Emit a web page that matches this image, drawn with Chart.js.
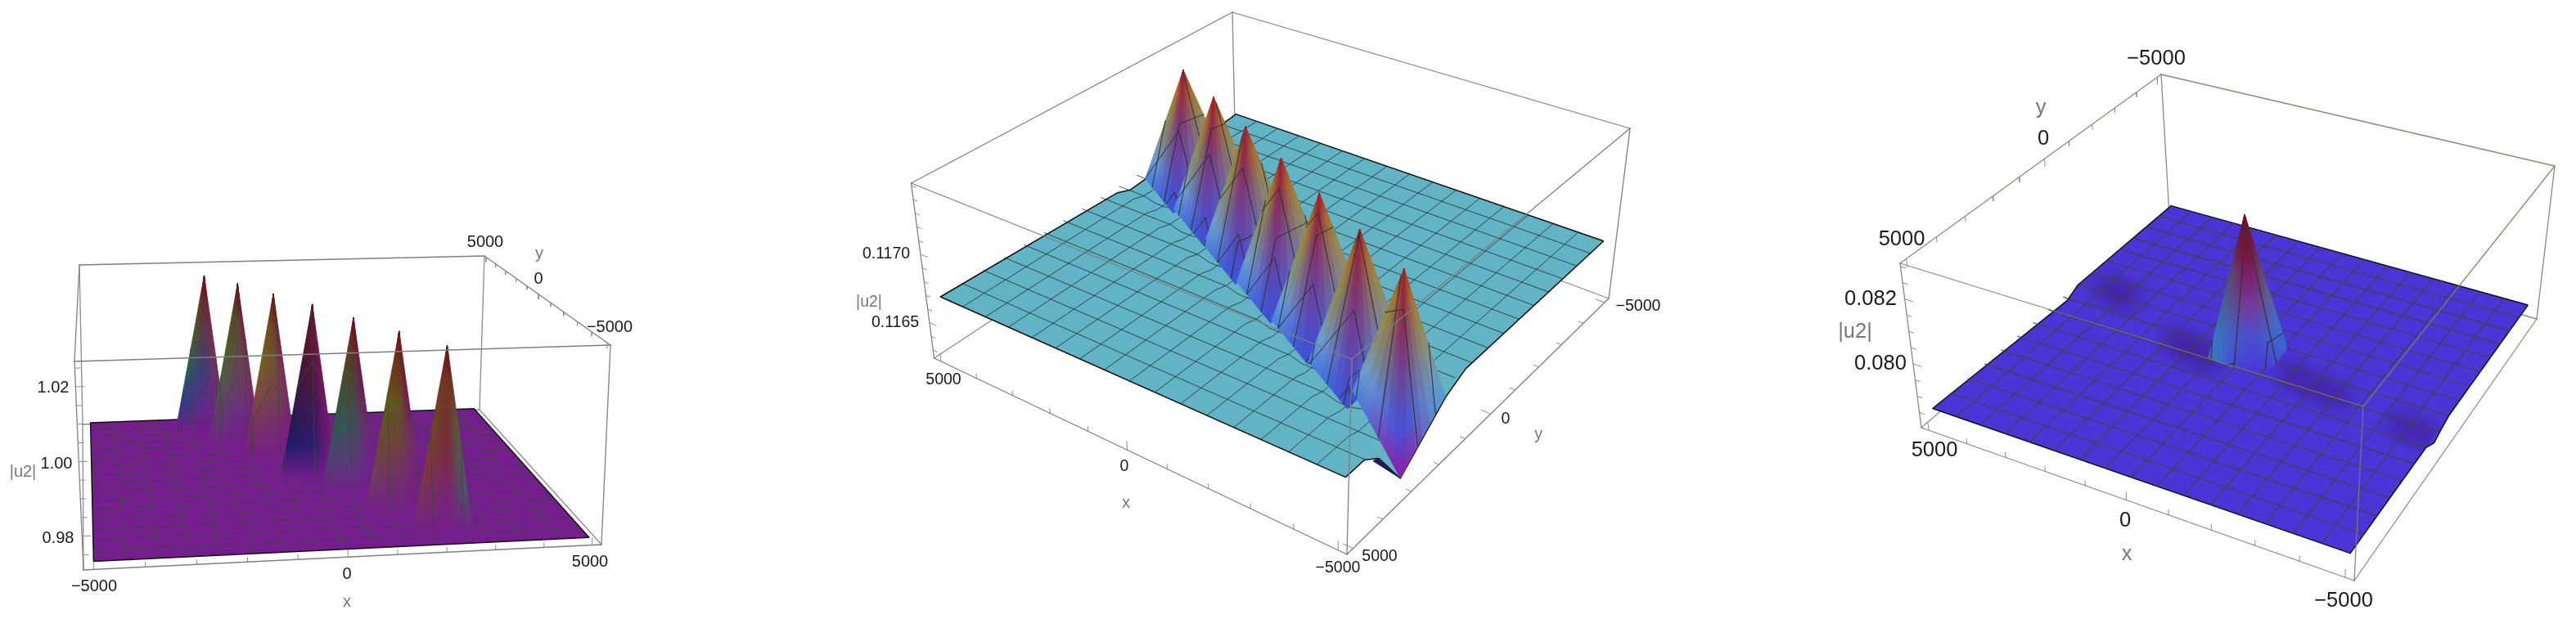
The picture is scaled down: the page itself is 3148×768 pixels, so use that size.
<!DOCTYPE html>
<html>
<head>
<meta charset="utf-8">
<style>
  html, body { margin: 0; background: #fff; }
  #wrap { width: 3148px; height: 768px; }
</style>
<script src="https://cdn.jsdelivr.net/npm/chart.js@4/dist/chart.umd.js"></script>
</head>
<body>
<div id="wrap"><canvas id="surfaces" width="3148" height="768"></canvas></div>
<script>
// axes, shared by the three plots
const axisTicks = [-5000, -4000, -3000, -2000, -1000, 0, 1000, 2000, 3000, 4000, 5000];
const axisMajor = [-5000, 0, 5000];
const meshLines = [-4375, -3750, -3125, -2500, -1875, -1250, -625, 0, 625, 1250, 1875, 2500, 3125, 3750, 4375];

// left plot
const zTicks1 = [0.975, 0.98, 0.985, 0.99, 0.995, 1.0, 1.005, 1.01, 1.015, 1.02, 1.025];
const zMajor1 = [0.98, 1.0, 1.02];
const flatZ1 = 0.9722;
const spikeX1 = [-2134, -1422, -699, 27, 755, 1517, 2236];
const spikeY1 = [4318, 2959, 1673, 261, -1066, -2379, -3816];
const spikeZ1 = [1.0243, 1.0248, 1.0246, 1.0248, 1.0242, 1.0236, 1.0236];
const footDx1 = [-780, -100, 500];
const footDy1 = [-540, -800, -560];
const rimX1 = [-5000, 5000, 5000, -5000];
const rimY1 = [-5000, -5000, 5000, 5000];
const rimZ1 = [0.9722, 0.9722, 0.9722, 0.9722];

// middle plot
const zTicks2 = [0.1163, 0.1164, 0.1165, 0.1166, 0.1167, 0.1168, 0.1169, 0.117, 0.1171, 0.1172, 0.1173, 0.1174, 0.1175];
const zMajor2 = [0.1165, 0.117];
const flatZ2 = 0.11668;
const spikeX2 = [4050, 2674, 1203, -240, -1676, -3105, -4420];
const spikeY2 = [-1894, -1211, -399, 343, 1073, 1819, 2354];
const spikeZ2 = [0.11754, 0.11754, 0.11756, 0.11757, 0.11757, 0.11758, 0.11754];
const footDx2 = [700, -780, -700];
const footDy2 = [650, 1480, -700];
const lastFootX2 = [-3638, -5000, -4975];
const lastFootY2 = [2763, 3100, 1530];
const lastFootZ2 = [0.11668, 0.11632, 0.1166];
const rimX2 = [-5000, 5000, 5000, 5000, 5000, -5000, -5000, -5000, -5000, -5000, -5000];
const rimY2 = [-5000, -5000, -984, -530, 5000, 5000, 4391, 3900, 3100, 1530, 827];
const rimZ2 = [0.11668, 0.11668, 0.1166, 0.11664, 0.11668, 0.11668, 0.11668, 0.1166, 0.11632, 0.1166, 0.11667];
// the mesh dips a little where it crosses the row of spikes
const troughSlope2 = 0.4995;
const troughAnchor2 = [3230, -304];
const troughDip2 = 0.000025;

// right plot
const zTicks3 = [0.0785, 0.079, 0.0795, 0.08, 0.0805, 0.081, 0.0815, 0.082, 0.0825, 0.083];
const zMajor3 = [0.08, 0.082];
const flatZ3 = 0.07855;
const spikeX3 = [50];
const spikeY3 = [-72];
const spikeZ3 = [0.08296];
const footX3 = [703, 24, -757, -710];
const footY3 = [570, 646, 227, -634];
const rimX3 = [-5000, 5000, 5000, 5000, 5000, -5000, -5000, -5000, -5000, -5000];
const rimY3 = [-5000, -5000, -622, -126, 5000, 5000, 1271, 787, 400, -24];
const rimZ3 = [0.07855, 0.07855, 0.07855, 0.07835, 0.07855, 0.07855, 0.07855, 0.07832, 0.07845, 0.07855];
const shadeX3 = [4292, 3700, 1700, 1180, 700, -1290, -1900, -2500, -4808, -4200];
const shadeY3 = [-832, -700, 330, 452, 560, 301, 420, 500, 883, 760];

// cameras: where the corners of the plot box land, order (x-,y-) (x+,y-) (x+,y+) (x-,y+)
const boxBottom1 = [[102, 697], [735, 666], [586, 501], [101, 519]];
const boxTop1 = [[91, 442], [746, 422], [592, 313], [97, 324]];
const boxBottom2 = [[1966, 365], [1510, 195], [1141.6, 438], [1646, 678]];
const boxTop2 = [[1992, 157], [1506, 15], [1113.5, 224], [1652, 439]];
const boxBottom3 = [[3100, 390], [2651, 263], [2348, 523], [2877, 710]];
const boxTop3 = [[3122, 203], [2641, 91], [2322, 322], [2888, 497]];

const boxEdges = [[0, 1], [1, 2], [2, 3], [3, 0], [4, 5], [5, 6], [6, 7], [7, 4], [0, 4], [1, 5], [2, 6], [3, 7]];

const BOX = 5200;
const datasets = [];

function homography(q) {
    const [[x0, y0], [x1, y1], [x2, y2], [x3, y3]] = q;
    const dx1 = x1 - x2, dx2 = x3 - x2, sx = x0 - x1 + x2 - x3;
    const dy1 = y1 - y2, dy2 = y3 - y2, sy = y0 - y1 + y2 - y3;
    const den = dx1 * dy2 - dx2 * dy1;
    const g = (sx * dy2 - dx2 * sy) / den, h = (dx1 * sy - sx * dy1) / den;
    return [x1 - x0 + g * x1, x3 - x0 + h * x3, x0, y1 - y0 + g * y1, y3 - y0 + h * y3, y0, g, h];
}

function camera(bottom, top, zMin, zMax) {
    return { low: homography(bottom), high: homography(top), zMin, zMax };
}

function project(cam, x, y, z) {
    const u = (x + BOX) / (2 * BOX), v = (y + BOX) / (2 * BOX);
    const w = (z - cam.zMin) / (cam.zMax - cam.zMin);
    const at = m => {
        const d = m[6] * u + m[7] * v + 1;
        return [(m[0] * u + m[1] * v + m[2]) / d, (m[3] * u + m[4] * v + m[5]) / d];
    };
    const a = at(cam.low), b = at(cam.high);
    return { x: a[0] + (b[0] - a[0]) * w, y: a[1] + (b[1] - a[1]) * w };
}

function addLine(cam, pts, color, width) {
    datasets.push({
        data: pts.map(p => project(cam, p[0], p[1], p[2])),
        showLine: true, pointRadius: 0, fill: false,
        borderColor: color, borderWidth: width, borderJoinStyle: 'round', borderCapStyle: 'round'
    });
}

function addShape(cam, pts, fillStyle, border, width) {
    const data = pts.map(p => project(cam, p[0], p[1], p[2]));
    data.push(data[0]);
    datasets.push({
        data, showLine: true, pointRadius: 0, fill: 'shape',
        backgroundColor: fillStyle, borderColor: border, borderWidth: width, borderJoinStyle: 'round'
    });
}

// the paints can be asked for before layout, the scales map 1:1 onto the canvas anyway
const pixel = (scale, v) => {
    const p = scale.getPixelForValue(v);
    return Number.isFinite(p) ? p : v;
};

function linearPaint(a, b, cols) {
    return ctx => {
        const { x, y } = ctx.chart.scales;
        const g = ctx.chart.ctx.createLinearGradient(pixel(x, a.x), pixel(y, a.y), pixel(x, b.x), pixel(y, b.y));
        cols.forEach((c, i) => g.addColorStop(i / (cols.length - 1), c));
        return g;
    };
}

function radialPaint(c, radius, inner, outer) {
    return ctx => {
        const { x, y } = ctx.chart.scales;
        const px = pixel(x, c.x), py = pixel(y, c.y);
        const g = ctx.chart.ctx.createRadialGradient(px, py, 0, px, py, radius);
        g.addColorStop(0, inner);
        g.addColorStop(1, outer);
        return g;
    };
}

const hex = s => [1, 3, 5].map(i => parseInt(s.substr(i, 2), 16));
function mix(a, b, t) {
    const p = hex(a), q = hex(b);
    return 'rgb(' + p.map((v, i) => Math.round(v + (q[i] - v) * t)).join(',') + ')';
}
const ease = t => t * t * (3 - 2 * t);

function columnStops(style, t) {
    return style.left.map((c, i) => t < 0.5
        ? mix(style.left[i], style.mid[i], ease(t * 2))
        : mix(style.mid[i], style.right[i], ease((t - 0.5) * 2)));
}

// where a mesh line runs over one triangle of a spike
function meshCuts(tri, k, m) {
    const hits = [];
    for (let i = 0; i < 3; i++) {
        const a = tri[i], b = tri[(i + 1) % 3];
        if ((a[k] - m) * (b[k] - m) < 0) {
            const t = (m - a[k]) / (b[k] - a[k]);
            hits.push([a[0] + (b[0] - a[0]) * t, a[1] + (b[1] - a[1]) * t, a[2] + (b[2] - a[2]) * t]);
        }
    }
    return hits.length === 2 ? hits : null;
}

function addSpike(cam, apex, foot, style, meshColor, meshWidth) {
    const faces = foot.length - 1, slices = 6;
    const top = project(cam, apex[0], apex[1], apex[2]);
    for (let f = 0; f < faces; f++) {
        const a = foot[f], b = foot[f + 1];
        for (let i = 0; i < slices; i++) {
            const at = s => [0, 1, 2].map(k => a[k] + (b[k] - a[k]) * s);
            const p = at(i / slices), q = at((i + 1) / slices);
            const t = (f + (i + 0.5) / slices) / faces;
            const m = at((i + 0.5) / slices);
            const paint = linearPaint(top, project(cam, m[0], m[1], m[2]), columnStops(style, t));
            addShape(cam, [apex, p, q], paint, paint, 0.7);
        }
    }
    for (let f = 0; f < faces; f++) {
        const tri = [apex, foot[f], foot[f + 1]];
        for (const m of meshLines) {
            for (const k of [0, 1]) {
                const cut = meshCuts(tri, k, m);
                if (cut) addLine(cam, cut, meshColor, meshWidth);
            }
        }
    }
}

function addBox(cam, edges, color) {
    const c = [[-BOX, -BOX], [BOX, -BOX], [BOX, BOX], [-BOX, BOX]];
    const corner = i => [c[i % 4][0], c[i % 4][1], i < 4 ? cam.zMin : cam.zMax];
    edges.forEach(i => addLine(cam, [corner(boxEdges[i][0]), corner(boxEdges[i][1])], color, 1.3));
}

function addTicks(cam, values, major, at, dir, minorShare) {
    for (const v of values) {
        const share = major.includes(v) ? 1 : minorShare;
        const p = at(v);
        addLine(cam, [p, [p[0] + dir[0] * share, p[1] + dir[1] * share, p[2] + dir[2] * share]], '#8c8c8c', 1);
    }
}

function addPlane(cam, rimX, rimY, rimZ, color) {
    addShape(cam, rimX.map((x, i) => [x, rimY[i], rimZ[i]]), color, '#101010', 1.5);
}

function addMesh(cam, flat, meshColor, meshWidth) {
    for (const m of meshLines) {
        addLine(cam, [[m, -5000, flat], [m, 5000, flat]], meshColor, meshWidth);
        addLine(cam, [[-5000, m, flat], [5000, m, flat]], meshColor, meshWidth);
    }
}

// ---- left plot
const cam1 = camera(boxBottom1, boxTop1, 0.971, 1.0268);
addBox(cam1, [1, 2, 3, 10, 11], '#8c8c8c');
addPlane(cam1, rimX1, rimY1, rimZ1, '#741d8c');
addMesh(cam1, flatZ1, 'rgba(60,69,60,0.9)', 0.9);
const base1 = '#741d8c';
const styles1 = [
    { left: ['#6b0f1e', '#5e3a1a', '#46582a', '#2a5a5e', '#2c3c80', base1], mid: ['#6b0f1e', '#5c2a30', '#4c3a50', '#3c3a78', '#5a2a88', base1], right: ['#6b0f1e', '#701a38', '#742a4c', '#76305c', '#781f80', base1] },
    { left: ['#6b0f1e', '#4c4818', '#4a5a22', '#4e5a4a', '#5e4068', base1], mid: ['#6b0f1e', '#50402a', '#5a4a40', '#644060', '#6a2c80', base1], right: ['#6b0f1e', '#6c1a30', '#742a4c', '#762f5c', '#781f80', base1] },
    { left: ['#6a1a14', '#70481a', '#70601e', '#7a4a3c', '#783060', base1], mid: ['#6a1a14', '#6a4020', '#6e5030', '#74404c', '#762c70', base1], right: ['#6a1a14', '#6c1a30', '#742a4c', '#762f5c', '#781f80', base1] },
    { left: ['#5c0e20', '#4c1030', '#3c1638', '#2a1a4a', '#1c1c64', base1], mid: ['#5c0e20', '#56102c', '#4c1438', '#3a1850', '#2c1c70', base1], right: ['#6a0e30', '#6c1048', '#6c1258', '#701468', '#741878', base1] },
    { left: ['#6c1018', '#60381e', '#3e4e34', '#2c5a50', '#4e3f70', base1], mid: ['#6c1018', '#5a3020', '#4a4438', '#3e5058', '#5a3a7a', base1], right: ['#6a0e2a', '#6c1240', '#681a58', '#6a2a70', '#701f88', base1] },
    { left: ['#6c1018', '#6a3a14', '#5a5a18', '#6a4a30', '#703a60', base1], mid: ['#6c1018', '#6a3018', '#605020', '#6c4438', '#703068', base1], right: ['#6c1018', '#6e162a', '#6e1a50', '#703068', '#741f80', base1] },
    { left: ['#6c1018', '#70361a', '#6a4a20', '#7a3a3a', '#783060', base1], mid: ['#6c1018', '#70301c', '#743030', '#7a2c48', '#782478', base1], right: ['#6c1018', '#6e2a20', '#5a5a30', '#4e5a50', '#4f4f70', base1] }
];
spikeX1.forEach((x, i) => {
    const foot = footDx1.map((dx, k) => [x + dx, spikeY1[i] + footDy1[k], flatZ1]);
    addSpike(cam1, [x, spikeY1[i], spikeZ1[i]], foot, styles1[i], 'rgba(60,69,60,0.9)', 0.9);
});
addBox(cam1, [0, 4, 5, 6, 7, 8, 9], '#7f7f7f');
addTicks(cam1, axisTicks, axisMajor, v => [v, -BOX, cam1.zMin], [0, 0, 0.002], 0.65);
addTicks(cam1, axisTicks, axisMajor, v => [BOX, v, cam1.zMax], [0, 0, -0.0016], 0.7);
addTicks(cam1, zTicks1, zMajor1, v => [-BOX, -BOX, v], [165, 0, 0], 0.65);

// ---- middle plot
const cam2 = camera(boxBottom2, boxTop2, 0.11624, 0.11752);
addBox(cam2, [0, 1, 9], '#8c8c8c');
addPlane(cam2, rimX2, rimY2, rimZ2, '#62b4c5');
const bandA = project(cam2, -500, 900, flatZ2);
addShape(cam2, [[4700, -1000, flatZ2], [-5000, 3900, flatZ2], [-5000, 5000, flatZ2], [3800, 600, flatZ2]],
    linearPaint(bandA, { x: bandA.x - 24, y: bandA.y + 26 }, ['rgba(84,160,232,0.75)', 'rgba(90,170,225,0.4)', 'rgba(98,180,197,0)']),
    'rgba(0,0,0,0)', 0);
const dip = flatZ2 - troughDip2;
const meshColor2 = 'rgba(28,42,46,0.88)';
for (const m of meshLines) {
    const xr = troughAnchor2[0] - (m - troughAnchor2[1]) / troughSlope2;
    const yr = troughAnchor2[1] + (troughAnchor2[0] - m) * troughSlope2;
    const along = (xr > -4200 && xr < 4200)
        ? [[-5000, m, flatZ2], [xr - 500, m, flatZ2], [xr - 200, m, dip], [xr + 100, m, dip], [xr + 400, m, flatZ2], [5000, m, flatZ2]]
        : [[-5000, m, flatZ2], [5000, m, flatZ2]];
    const across = (yr > -4200 && yr < 4200)
        ? [[m, -5000, flatZ2], [m, yr - 500, flatZ2], [m, yr - 150, dip], [m, yr + 150, dip], [m, yr + 500, flatZ2], [m, 5000, flatZ2]]
        : [[m, -5000, flatZ2], [m, 5000, flatZ2]];
    addLine(cam2, along, meshColor2, 0.9);
    addLine(cam2, across, meshColor2, 0.9);
}
const warmLeft = ['#a41f1c', '#a8772a', '#8f8f4a', '#84907a', '#6e9fca', '#4a7fe0'];
const warmMid = ['#9c1c2c', '#8f2848', '#7c3478', '#6a409c', '#5048c0', '#3c50d8'];
const warmRight = ['#a41f1c', '#a8702e', '#948a50', '#8a8f7c', '#6f9ab8', '#4f9cd8'];
spikeX2.forEach((x, i) => {
    const last = i === spikeX2.length - 1;
    const foot = last
        ? lastFootX2.map((fx, k) => [fx, lastFootY2[k], lastFootZ2[k]])
        : footDx2.map((dx, k) => [x + dx, spikeY2[i] + footDy2[k], flatZ2]);
    const mid = last ? ['#9c1c2c', '#8f2848', '#7c3478', '#604aa8', '#4650d8', '#8a20a8'] : warmMid;
    addSpike(cam2, [x, spikeY2[i], spikeZ2[i]], foot, { left: warmLeft, mid, right: warmRight }, '#26302f', 1);
});
addShape(cam2, [[-5000, 3900, 0.1166], [-5000, 4100, 0.11662], [-5000, 3100, 0.11632]], '#1a1f55', '#1a1f55', 1);
addBox(cam2, [2, 3, 4, 5, 6, 7, 8, 10, 11], '#7f7f7f');
addTicks(cam2, axisTicks, axisMajor, v => [v, BOX, cam2.zMin], [0, 0, 0.00006], 0.55);
addTicks(cam2, axisTicks, axisMajor, v => [-BOX, v, cam2.zMin], [220, 0, 0], 0.55);
addTicks(cam2, zTicks2, zMajor2, v => [BOX, BOX, v], [-190, 0, 0], 0.6);

// ---- right plot
const cam3 = camera(boxBottom3, boxTop3, 0.07803, 0.0831);
addBox(cam3, [0, 1, 9], '#8c8c8c');
addPlane(cam3, rimX3, rimY3, rimZ3, '#4a36d6');
shadeX3.forEach((x, i) => {
    const y = shadeY3[i];
    const clamp = v => Math.max(-5000, Math.min(5000, v));
    const size = 900;
    addShape(cam3, [[clamp(x - size), clamp(y - size), flatZ3], [clamp(x + size), clamp(y - size), flatZ3],
        [clamp(x + size), clamp(y + size), flatZ3], [clamp(x - size), clamp(y + size), flatZ3]],
        radialPaint(project(cam3, x, y, flatZ3), 32, 'rgba(60,20,120,0.45)', 'rgba(60,20,120,0)'), 'rgba(0,0,0,0)', 0);
});
addMesh(cam3, flatZ3, 'rgba(66,66,48,0.95)', 1.1);
addSpike(cam3, [spikeX3[0], spikeY3[0], spikeZ3[0]], footX3.map((fx, k) => [fx, footY3[k], flatZ3]), {
    left: ['#6e1020', '#6e1a3a', '#5a4a70', '#4a5f90', '#3a72b8', '#3b7ac8'],
    mid: ['#6e1020', '#7a1038', '#7a2068', '#703c9a', '#4a50d0', '#4a38d8'],
    right: ['#6e1020', '#701a40', '#6a3f70', '#5a6090', '#4070c8', '#3a60d8']
}, '#353535', 1.3);
addBox(cam3, [2, 3, 4, 5, 6, 7, 8, 10, 11], 'rgba(125,125,105,0.9)');
addTicks(cam3, axisTicks, axisMajor, v => [v, BOX, cam3.zMin], [0, 0, 0.00024], 0.65);
addTicks(cam3, axisTicks, axisMajor, v => [BOX, v, cam3.zMax], [0, 0, -0.00024], 0.65);
addTicks(cam3, zTicks3, zMajor3, v => [BOX, BOX, v], [-210, 0, 0], 0.6);

// ---- axis text
const labelText = ['5000', 'y', '0', '\u22125000', '1.02', '1.00', '0.98', '|u2|', '\u22125000', '0', '5000', 'x',
    '0.1170', '0.1165', '|u2|', '5000', '0', 'x', '\u22125000', '5000', '0', 'y', '\u22125000',
    '\u22125000', 'y', '0', '5000', '0.082', '|u2|', '0.080', '5000', '0', 'x', '\u22125000'];
const labelX = [593, 659, 658, 745, 65, 69, 71, 28, 115, 424, 721, 424,
    1083, 1094, 1062, 1153, 1374, 1376, 1635, 1686, 1840, 1880, 2002,
    2635, 2494, 2497, 2324, 2286, 2267, 2298, 2364, 2597, 2599, 2864];
const labelY = [296, 310, 341, 400, 474, 567, 658, 577, 717, 702, 687, 736,
    311, 395, 370, 465, 571, 616, 695, 681, 513, 532, 375,
    72, 132, 170, 293, 366, 406, 445, 551, 637, 678, 735];
const labelSize = [20, 20, 20, 20, 20, 20, 20, 20, 20, 20, 20, 20,
    19.5, 19.5, 19.5, 19.5, 19.5, 19.5, 19.5, 19.5, 19.5, 19.5, 19.5,
    25.5, 25.5, 25.5, 25.5, 25.5, 25.5, 25.5, 25.5, 25.5, 25.5, 25.5];

const axisText = {
    id: 'axisText',
    afterDraw(chart) {
        const { ctx, scales } = chart;
        ctx.save();
        ctx.textAlign = 'center';
        ctx.textBaseline = 'middle';
        labelText.forEach((t, i) => {
            const title = t === 'x' || t === 'y' || t === '|u2|';
            ctx.font = labelSize[i] + 'px "Liberation Sans"';
            ctx.fillStyle = title ? '#777777' : '#1a1a1a';
            ctx.fillText(t, scales.x.getPixelForValue(labelX[i]), scales.y.getPixelForValue(labelY[i]));
        });
        ctx.restore();
    }
};

// chart.js paints the first dataset on top
datasets.reverse();

new Chart(document.getElementById('surfaces').getContext('2d'), {
    type: 'scatter',
    data: { datasets },
    options: {
        responsive: false,
        animation: false,
        events: [],
        layout: { padding: 0 },
        plugins: { legend: { display: false }, tooltip: { enabled: false } },
        scales: {
            x: { type: 'linear', display: false, min: 0, max: 3148 },
            y: { type: 'linear', display: false, min: 0, max: 768, reverse: true }
        }
    },
    plugins: [axisText]
});
</script>
</body>
</html>
